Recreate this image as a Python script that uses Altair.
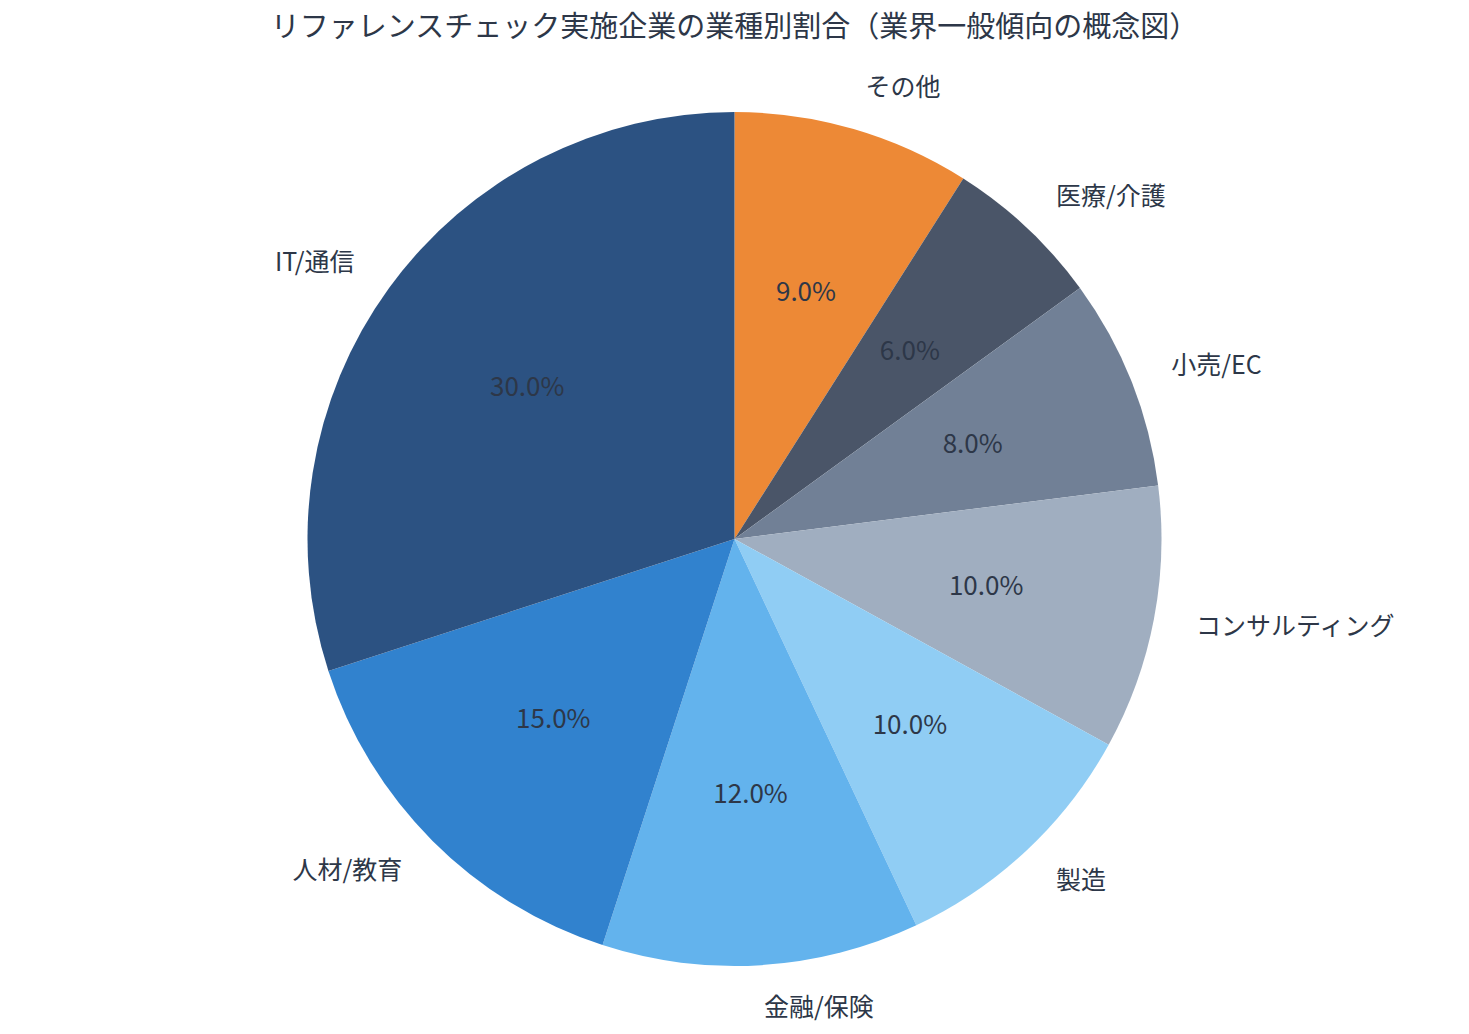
import pandas as pd
import altair as alt

FONT = "Noto Sans CJK JP"
TEXT_COLOR = "#2D3748"

# data, in the order the slices go round counter-clockwise from the top
categories = ["IT/通信", "人材/教育", "金融/保険", "製造", "コンサルティング",
              "小売/EC", "医療/介護", "その他"]
shares = [30, 15, 12, 10, 10, 8, 6, 9]
colors = ["#2C5282", "#3182CE", "#63B3ED", "#90CDF4", "#A0AEC0",
          "#718096", "#4A5568", "#ED8936"]

df = pd.DataFrame({"category": categories, "share": shares, "color": colors})

# vega draws clockwise, so walk the list backwards
df = df.iloc[::-1].reset_index(drop=True)
df["end"] = df["share"].cumsum()
df["start"] = df["end"] - df["share"]
df["mid"] = (df["start"] + df["end"]) / 2
df["pct"] = df["share"].map(lambda v: f"{v:.1f}%")
total = df["share"].sum()

R = 427
theta_scale = alt.Scale(domain=[0, total], range=[0, 6.283185307179586])

base = alt.Chart(df)

arcs = base.mark_arc(radius=R, stroke=None).encode(
    theta=alt.Theta("start:Q", scale=theta_scale, stack=None),
    theta2="end:Q",
    color=alt.Color("color:N", scale=None, legend=None),
)

pct_text = base.mark_text(
    radius=R * 0.6, font=FONT, fontSize=26, color=TEXT_COLOR,
    align="center", baseline="middle",
).encode(
    theta=alt.Theta("mid:Q", scale=theta_scale, stack=None),
    text="pct:N",
)

# right half labels start at 1.1R, left half labels end there
right_labels = base.transform_filter(f"datum.mid < {total / 2}").mark_text(
    radius=R * 1.1, font=FONT, fontSize=25, color=TEXT_COLOR,
    align="left", baseline="middle",
).encode(
    theta=alt.Theta("mid:Q", scale=theta_scale, stack=None),
    text="category:N",
)

left_labels = base.transform_filter(f"datum.mid >= {total / 2}").mark_text(
    radius=R * 1.1, font=FONT, fontSize=25, color=TEXT_COLOR,
    align="right", baseline="middle",
).encode(
    theta=alt.Theta("mid:Q", scale=theta_scale, stack=None),
    text="category:N",
)

chart = (arcs + pct_text + right_labels + left_labels).properties(
    width=1453,
    height=976,
    padding={"top": 6, "left": 0, "right": 0, "bottom": 0},
    title=alt.TitleParams(
        "リファレンスチェック実施企業の業種別割合（業界一般傾向の概念図）",
        font=FONT, fontSize=29, fontWeight="normal", color=TEXT_COLOR,
        anchor="middle", offset=8,
    ),
).configure_view(stroke=None)

chart.save("out.html", embed_options={"renderer": "svg", "actions": False})
